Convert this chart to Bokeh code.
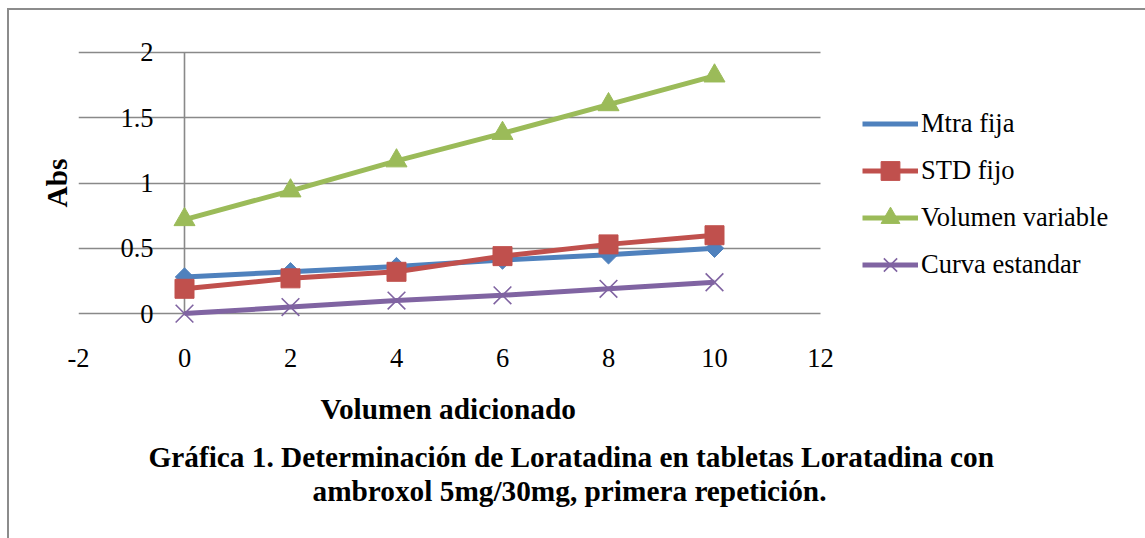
from bokeh.plotting import figure
from bokeh.models import (FixedTicker, LinearAxis, Legend, LegendItem, Title,
                          Range1d, Grid)
from bokeh.embed import file_html
from bokeh.resources import INLINE
import math

# Volumen adicionado (x) y absorbancias de cada serie
volumen = [0, 2, 4, 6, 8, 10]
mtra_fija = [0.28, 0.32, 0.36, 0.41, 0.45, 0.50]
std_fijo = [0.19, 0.27, 0.32, 0.44, 0.53, 0.60]
volumen_variable = [0.72, 0.94, 1.17, 1.38, 1.60, 1.82]
curva_estandar = [0.00, 0.05, 0.10, 0.14, 0.19, 0.24]

series_names = ["Mtra fija", "STD fijo", "Volumen variable", "Curva estandar"]

x_ticks = [-2, 0, 2, 4, 6, 8, 10, 12]
x_tick_labels = ["-2", "0", "2", "4", "6", "8", "10", "12"]
y_ticks = [0, 0.5, 1, 1.5, 2]
y_tick_labels = ["0", "0.5", "1", "1.5", "2"]

SERIF = "Liberation Serif"
TICK_SIZE = "26.5px"
TITLE_SIZE = "29.3px"
GRID = "#898989"

W, H = 1145, 538
PLOT_LEFT, PLOT_RIGHT = 78, 820          # pixel span of the x ticks -2 .. 12
px_per_unit = (PLOT_RIGHT - PLOT_LEFT) / (x_ticks[-1] - x_ticks[0])
# the frame runs on to the right edge so the legend can sit beside the grid
x_end = x_ticks[-1] + (W - PLOT_RIGHT) / px_per_unit

# a little headroom above 2 and below 0 so the tick labels at the ends are not cut
p = figure(width=W, height=H, output_backend="svg", toolbar_location=None,
           x_range=Range1d(x_ticks[0], x_end), y_range=Range1d(-0.16, 2.16),
           min_border_left=PLOT_LEFT, min_border_right=0,
           min_border_top=31, min_border_bottom=204,
           x_axis_type=None, y_axis_type=None)
p.outline_line_color = None
p.background_fill_alpha = 0
p.border_fill_alpha = 0
# thin grey frame around the chart area (top and left edges are on the page)
p.styles = {"box-shadow": "inset 7px 8px 0 0 #ffffff, inset 9px 10px 0 0 #8c8c8c"}

# horizontal gridlines, limited to the plotted x span
p.add_layout(Grid(dimension=1, ticker=FixedTicker(ticks=y_ticks),
                  cross_bounds=(x_ticks[0], x_ticks[-1]),
                  grid_line_color=GRID, grid_line_width=1.6))

# x axis along the bottom (labels only)
xaxis = LinearAxis(ticker=FixedTicker(ticks=x_ticks),
                   axis_line_color=None, major_tick_line_color=None,
                   minor_tick_line_color=None,
                   major_label_standoff=8,
                   major_label_overrides={t: s for t, s in zip(x_ticks, x_tick_labels)},
                   major_label_text_font=SERIF,
                   major_label_text_font_size=TICK_SIZE,
                   major_label_text_color="black")
p.add_layout(xaxis, "below")

# y axis labels placed at x = 0
yaxis = LinearAxis(ticker=FixedTicker(ticks=y_ticks), fixed_location=0,
                   axis_line_color=None,
                   major_tick_line_color=None, minor_tick_line_color=None,
                   major_label_standoff=25,
                   major_label_text_font=SERIF,
                   major_label_text_font_size=TICK_SIZE,
                   major_label_text_color="black",
                   major_label_overrides={t: s for t, s in zip(y_ticks, y_tick_labels)})
p.add_layout(yaxis, "left")

# vertical axis line from the first to the last y tick at x = 0
p.segment(x0=[0], y0=[y_ticks[0]], x1=[0], y1=[y_ticks[-1]],
          line_color=GRID, line_width=1.6)

# axis title "Abs" on the far left
ytitle = LinearAxis(ticker=FixedTicker(ticks=[]),
                    axis_line_color=None, major_tick_line_color=None,
                    minor_tick_line_color=None, major_tick_out=0,
                    major_label_standoff=0,
                    axis_label="Abs", axis_label_standoff=6,
                    axis_label_text_font=SERIF,
                    axis_label_text_font_style="bold",
                    axis_label_text_font_size=TITLE_SIZE,
                    axis_label_text_color="black")
p.add_layout(ytitle, "left")

colors = ["#4F81BD", "#C0504D", "#9BBB59", "#8064A2"]
values = [mtra_fija, std_fijo, volumen_variable, curva_estandar]
markers = [("square", 13, math.pi / 4), ("square", 19, 0),
           ("triangle", 21, 0), ("x", 25, 0)]
legend_markers = ["diamond", "square", "triangle", "x"]

items = []
for name, ys, color, (marker, size, ang), lmark in zip(series_names, values, colors,
                                                       markers, legend_markers):
    ln = p.line(volumen, ys, line_color=color, line_width=5)
    if marker == "x":
        mk = p.scatter(volumen, ys, marker="x", size=size, line_color=color,
                       line_width=1.6)
    else:
        mk = p.scatter(volumen, ys, marker=marker, size=size, angle=ang,
                       fill_color=color, line_color=color, line_width=1)
    if lmark == "diamond":
        # legend swatch only: upright diamond instead of the rotated square
        lk = p.scatter([], [], marker="diamond", fill_color=color,
                       line_color=color, line_width=1)
        items.append(LegendItem(label=name, renderers=[ln, lk]))
    else:
        items.append(LegendItem(label=name, renderers=[ln, mk]))

# legend beside the grid, in frame pixels measured from the bottom-left
legend = Legend(items=items, location=(862 - PLOT_LEFT, 46),
                glyph_width=56, glyph_height=47, label_height=47,
                label_standoff=3,
                label_text_font=SERIF, label_text_font_size=TICK_SIZE,
                label_text_color="black", spacing=0, padding=0, margin=0,
                border_line_color=None, background_fill_alpha=0)
p.add_layout(legend, "center")

# x axis title and figure caption, stacked under the tick labels
def spacer(h):
    return Title(text=" ", text_font_size="1px", standoff=h)

xtitle = Title(text="Volumen adicionado", align="left", offset=242,
               text_font=SERIF, text_font_style="bold",
               text_font_size=TITLE_SIZE, text_color="black", standoff=0)
cap1 = Title(text="Gráfica 1. Determinación de Loratadina en tabletas Loratadina con",
             align="left", offset=70, text_font=SERIF, text_font_style="bold",
             text_font_size=TITLE_SIZE, text_color="black", standoff=0)
cap2 = Title(text="ambroxol 5mg/30mg, primera repetición.",
             align="left", offset=234, text_font=SERIF, text_font_style="bold",
             text_font_size=TITLE_SIZE, text_color="black", standoff=0)
for t in [spacer(18), xtitle, spacer(11), cap1, cap2]:
    p.add_layout(t, "below")

open("out.html", "w").write(file_html(p, INLINE))
